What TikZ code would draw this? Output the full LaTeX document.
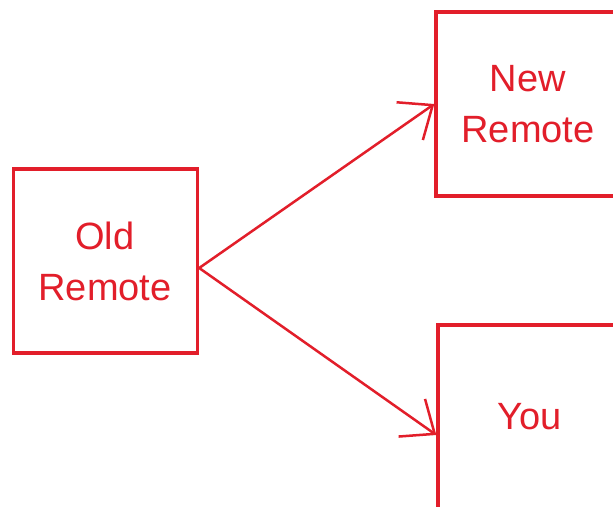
\documentclass[tikz,border=0pt]{standalone}
\usepackage{fontspec}
\setmainfont{Liberation Sans}
\usetikzlibrary{arrows.meta}
\definecolor{pen}{RGB}{226,30,42}
\begin{document}
\begin{tikzpicture}[x=1pt,y=-1pt,
  box/.style={draw=pen,line width=3.4pt,minimum width=184pt,minimum height=184pt,inner sep=0pt},
  lbl/.style={text=pen,font=\fontsize{38}{51}\selectfont,align=center},
  conn/.style={draw=pen,line width=2.5pt,-{Straight Barb[length=28pt,width=46pt,line width=2.5pt]}}]
\useasboundingbox (0,0) rectangle (613,506);
\clip (0,0) rectangle (613,506);
\fill[white] (0,0) rectangle (613,506);
\node[box] (old) at (105.5,261) {};
\node[box] (new) at (528,104) {};
\node[box] (you) at (530,417) {};
\node[lbl] (oldt) at (105,261) {Old\\Remote};
\node[lbl] (newt) at (528,104) {New\\Remote};
\node[lbl] (yout) at (530,417) {You};
\draw[conn] ([yshift=-7pt]old.east) -- (new.west);
\draw[conn] ([yshift=-7pt]old.east) -- ([yshift=-18pt]you.west);
\end{tikzpicture}
\end{document}
